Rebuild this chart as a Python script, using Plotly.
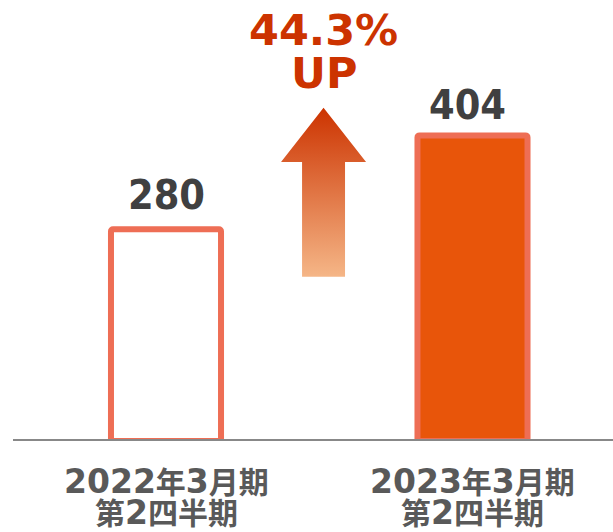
import plotly.graph_objects as go

# ---- data ----
categories_year = ["2022", "2023"]
categories_line1_tail = ["年3月期", "年3月期"]
categories_line2 = ["第2四半期", "第2四半期"]
values = [280, 404]
growth_label = "44.3%"
growth_suffix = "UP"

# ---- style ----
W, H = 613, 532
PLOT_H = 441
x_pos = [0, 1]
bar_fill = ["#FFFFFF", "#E8550A"]
bar_line = "#EE6E55"
val_color = "#404040"
cat_color = "#595959"
accent = "#CC3300"
label_xshift = [0, -5]
label_yshift = [34, 30]
DIG = '<span style="font-family:\'DejaVu Sans\';font-size:33px">'


def mixed(s):
    """wrap ASCII digits in a wider Latin font, CJK stays in Noto Sans CJK"""
    out, buf = [], ""
    for ch in s:
        if ch.isascii():
            buf += ch
        else:
            if buf:
                out.append(DIG + buf + "</span>")
                buf = ""
            out.append(ch)
    if buf:
        out.append(DIG + buf + "</span>")
    return "".join(out)


fig = go.Figure()

fig.add_trace(go.Bar(
    x=x_pos, y=values, width=0.359,
    marker=dict(color=bar_fill, line=dict(color=bar_line, width=6), cornerradius=2),
    hoverinfo="skip",
))

# gradient arrow (decorative), centred between the bars
ax_c, head_hw, shaft_hw = 0.514, 0.1387, 0.0701
a_tip, a_head, a_bot = 440.5, 369, 217
arrow_x = [ax_c - shaft_hw, ax_c - shaft_hw, ax_c - head_hw, ax_c, ax_c + head_hw,
           ax_c + shaft_hw, ax_c + shaft_hw, ax_c - shaft_hw]
arrow_y = [a_bot, a_head, a_head, a_tip, a_head, a_head, a_bot, a_bot]
fig.add_trace(go.Scatter(
    x=arrow_x, y=arrow_y, mode="lines", fill="toself", line=dict(width=0),
    fillgradient=dict(type="vertical", colorscale=[[0, "#F5B687"], [1, "#CC3300"]]),
    hoverinfo="skip",
))

annotations = []
for xi, v, xs, ys in zip(x_pos, values, label_xshift, label_yshift):
    annotations.append(dict(
        x=xi, y=v, xref="x", yref="y", text=str(v), showarrow=False,
        yanchor="middle", yshift=ys, xshift=xs,
        font=dict(family="DejaVu Sans Condensed", size=41, color=val_color, weight="bold"),
    ))
cat_font = dict(family="Noto Sans CJK JP", size=30, color=cat_color, weight="bold")
for xi, yr, tail, l2 in zip(x_pos, categories_year, categories_line1_tail, categories_line2):
    annotations.append(dict(
        x=xi, y=(PLOT_H - 480) / PLOT_H, xref="x", yref="paper", yanchor="middle",
        text=mixed(yr + tail), showarrow=False, font=cat_font,
    ))
    annotations.append(dict(
        x=xi, y=(PLOT_H - 511) / PLOT_H, xref="x", yref="paper", yanchor="middle",
        text=mixed(l2), showarrow=False, font=cat_font,
    ))
annotations.append(dict(
    x=ax_c, y=543, xref="x", yref="y", yanchor="middle", text=growth_label, showarrow=False,
    font=dict(family="DejaVu Sans", size=43, color=accent, weight="bold"),
))
annotations.append(dict(
    x=ax_c, y=486, xref="x", yref="y", yanchor="middle", text=growth_suffix, showarrow=False,
    font=dict(family="DejaVu Sans", size=43, color=accent, weight="bold"),
))

fig.update_layout(
    width=W, height=H,
    margin=dict(l=0, r=0, t=0, b=H - PLOT_H),
    paper_bgcolor="white", plot_bgcolor="white",
    showlegend=False,
    xaxis=dict(range=[-0.5416, 1.4584], visible=False, fixedrange=True),
    yaxis=dict(range=[0, 583], visible=False, fixedrange=True),
    annotations=annotations,
    shapes=[dict(type="line", xref="paper", yref="y", x0=13 / W, x1=1, y0=0, y1=0,
                 line=dict(color="#888888", width=4), layer="above")],
)

fig.write_html("out.html", config={"displayModeBar": False},
               post_script="document.body.style.margin='0';document.body.style.overflow='hidden';")
